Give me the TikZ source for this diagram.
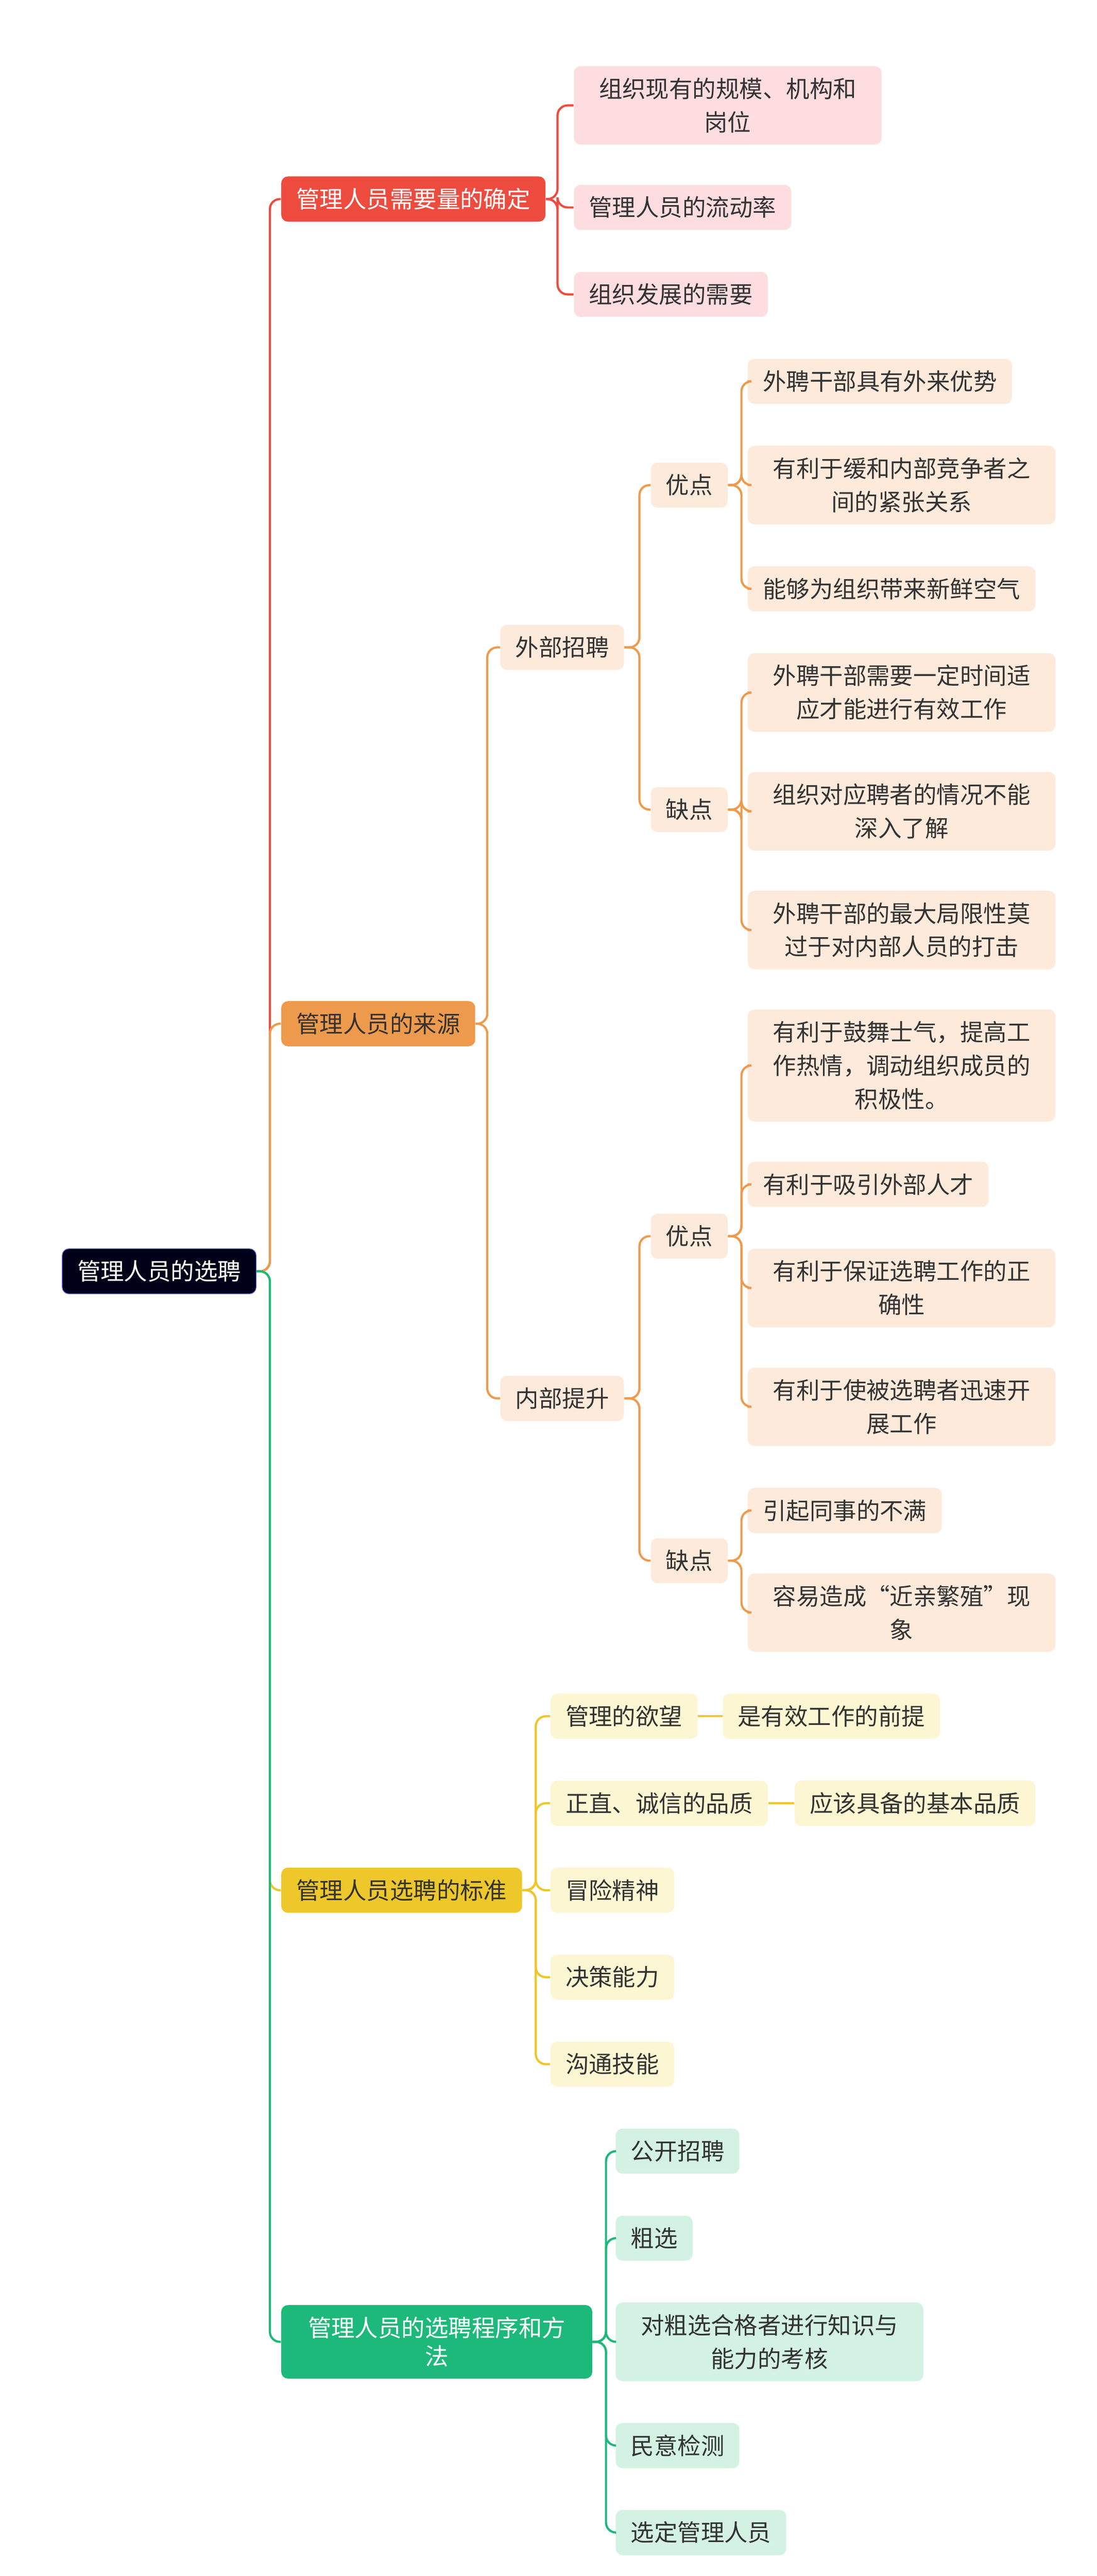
\documentclass[tikz,border=0pt]{standalone}
\usepackage{fontspec}
\setmainfont{Noto Sans CJK SC}
\definecolor{cR}{HTML}{EE4B3F}
\definecolor{cO}{HTML}{EE9A4C}
\definecolor{cY}{HTML}{EEC72A}
\definecolor{cG}{HTML}{1DB97A}
\definecolor{lR}{HTML}{FDDDE0}
\definecolor{lO}{HTML}{FDEADB}
\definecolor{lY}{HTML}{FDF6D2}
\definecolor{lG}{HTML}{D3F2E4}
\begin{document}
\begin{tikzpicture}[x=1pt,y=-1pt,
  bx/.style={rounded corners=4pt,inner xsep=9pt,inner ysep=7pt,font=\fontsize{14}{20}\selectfont,align=center,anchor=west,text=black!80},
  ml/.style={text width=#1},
  lr/.style={bx,fill=lR},
  lo/.style={bx,fill=lO},
  ly/.style={bx,fill=lY},
  lg/.style={bx,fill=lG},
  cr/.style={draw=cR,line width=1.3pt,rounded corners=6pt},
  co/.style={draw=cO,line width=1.3pt,rounded corners=6pt},
  cy/.style={draw=cY,line width=1.3pt,rounded corners=6pt},
  cg/.style={draw=cG,line width=1.3pt,rounded corners=6pt}]
\fill[white] (0,0) rectangle (656,1540);
\useasboundingbox (0,0) rectangle (656,1540);
% root and level 1
\node[bx,fill=blue!10!black,draw=blue!60,text=white] (root) at (37,760) {管理人员的选聘};
\node[bx,fill=cR,text=white] (A) at (168,119) {管理人员需要量的确定};
\node[bx,fill=cO] (B) at (168,612) {管理人员的来源};
\node[bx,fill=cY] (C) at (168,1130) {管理人员选聘的标准};
\node[bx,fill=cG,text=white,ml=168pt] (D) at (168,1400) {管理人员的选聘程序和方\\[-3pt]法};
\foreach \n/\s in {A/cr,B/co,C/cy,D/cg} \draw[\s] (root.east) -- ++(8,0) |- (\n.west);
% A
\node[lr,ml=166pt] (a1) at (343,63) {组织现有的规模、机构和\\岗位};
\node[lr] (a2) at (343,124) {管理人员的流动率};
\node[lr] (a3) at (343,176) {组织发展的需要};
\foreach \n in {a1,a2,a3} \draw[cr] (A.east) -- ++(7,0) |- (\n.west);
% B
\node[lo] (b1) at (299,387) {外部招聘};
\node[lo] (b2) at (299,836) {内部提升};
\foreach \n in {b1,b2} \draw[co] (B.east) -- ++(7,0) |- (\n.west);
\node[lo] (b11) at (389,290) {优点};
\node[lo] (b12) at (389,484) {缺点};
\node[lo] (b21) at (389,739) {优点};
\node[lo] (b22) at (389,933) {缺点};
\foreach \n in {b11,b12} \draw[co] (b1.east) -- ++(9,0) |- (\n.west);
\foreach \n in {b21,b22} \draw[co] (b2.east) -- ++(9,0) |- (\n.west);
\node[lo] (c1) at (447,228) {外聘干部具有外来优势};
\node[lo,ml=166pt] (c2) at (447,290) {有利于缓和内部竞争者之\\间的紧张关系};
\node[lo] (c3) at (447,352) {能够为组织带来新鲜空气};
\node[lo,ml=166pt] (c4) at (447,414) {外聘干部需要一定时间适\\应才能进行有效工作};
\node[lo,ml=166pt] (c5) at (447,485) {组织对应聘者的情况不能\\深入了解};
\node[lo,ml=166pt] (c6) at (447,556) {外聘干部的最大局限性莫\\过于对内部人员的打击};
\node[lo,ml=166pt] (c7) at (447,637) {有利于鼓舞士气，提高工\\作热情，调动组织成员的\\积极性。};
\node[lo] (c8) at (447,708) {有利于吸引外部人才};
\node[lo,ml=166pt] (c9) at (447,770) {有利于保证选聘工作的正\\确性};
\node[lo,ml=166pt] (c10) at (447,841) {有利于使被选聘者迅速开\\展工作};
\node[lo] (c11) at (447,903) {引起同事的不满};
\node[lo,ml=166pt] (c12) at (447,964) {容易造成“近亲繁殖”现\\象};
\foreach \n in {c1,c2,c3} \draw[co] (b11.east) -- ++(8,0) |- (\n.west);
\foreach \n in {c4,c5,c6} \draw[co] (b12.east) -- ++(8,0) |- (\n.west);
\foreach \n in {c7,c8,c9,c10} \draw[co] (b21.east) -- ++(8,0) |- (\n.west);
\foreach \n in {c11,c12} \draw[co] (b22.east) -- ++(8,0) |- (\n.west);
% C
\node[ly] (d1) at (329,1026) {管理的欲望};
\node[ly] (d2) at (329,1078) {正直、诚信的品质};
\node[ly] (d3) at (329,1130) {冒险精神};
\node[ly] (d4) at (329,1182) {决策能力};
\node[ly] (d5) at (329,1234) {沟通技能};
\foreach \n in {d1,d2,d3,d4,d5} \draw[cy] (C.east) -- ++(8,0) |- (\n.west);
\node[ly] (e1) at (432,1026) {是有效工作的前提};
\node[ly] (e2) at (475,1078) {应该具备的基本品质};
\draw[cy] (d1) -- (e1);
\draw[cy] (d2) -- (e2);
% D
\node[lg] (f1) at (368,1286) {公开招聘};
\node[lg] (f2) at (368,1338) {粗选};
\node[lg,ml=166pt] (f3) at (368,1400) {对粗选合格者进行知识与\\能力的考核};
\node[lg] (f4) at (368,1462) {民意检测};
\node[lg] (f5) at (368,1514) {选定管理人员};
\foreach \n in {f1,f2,f3,f4,f5} \draw[cg] (D.east) -- ++(8,0) |- (\n.west);
\end{tikzpicture}
\end{document}
